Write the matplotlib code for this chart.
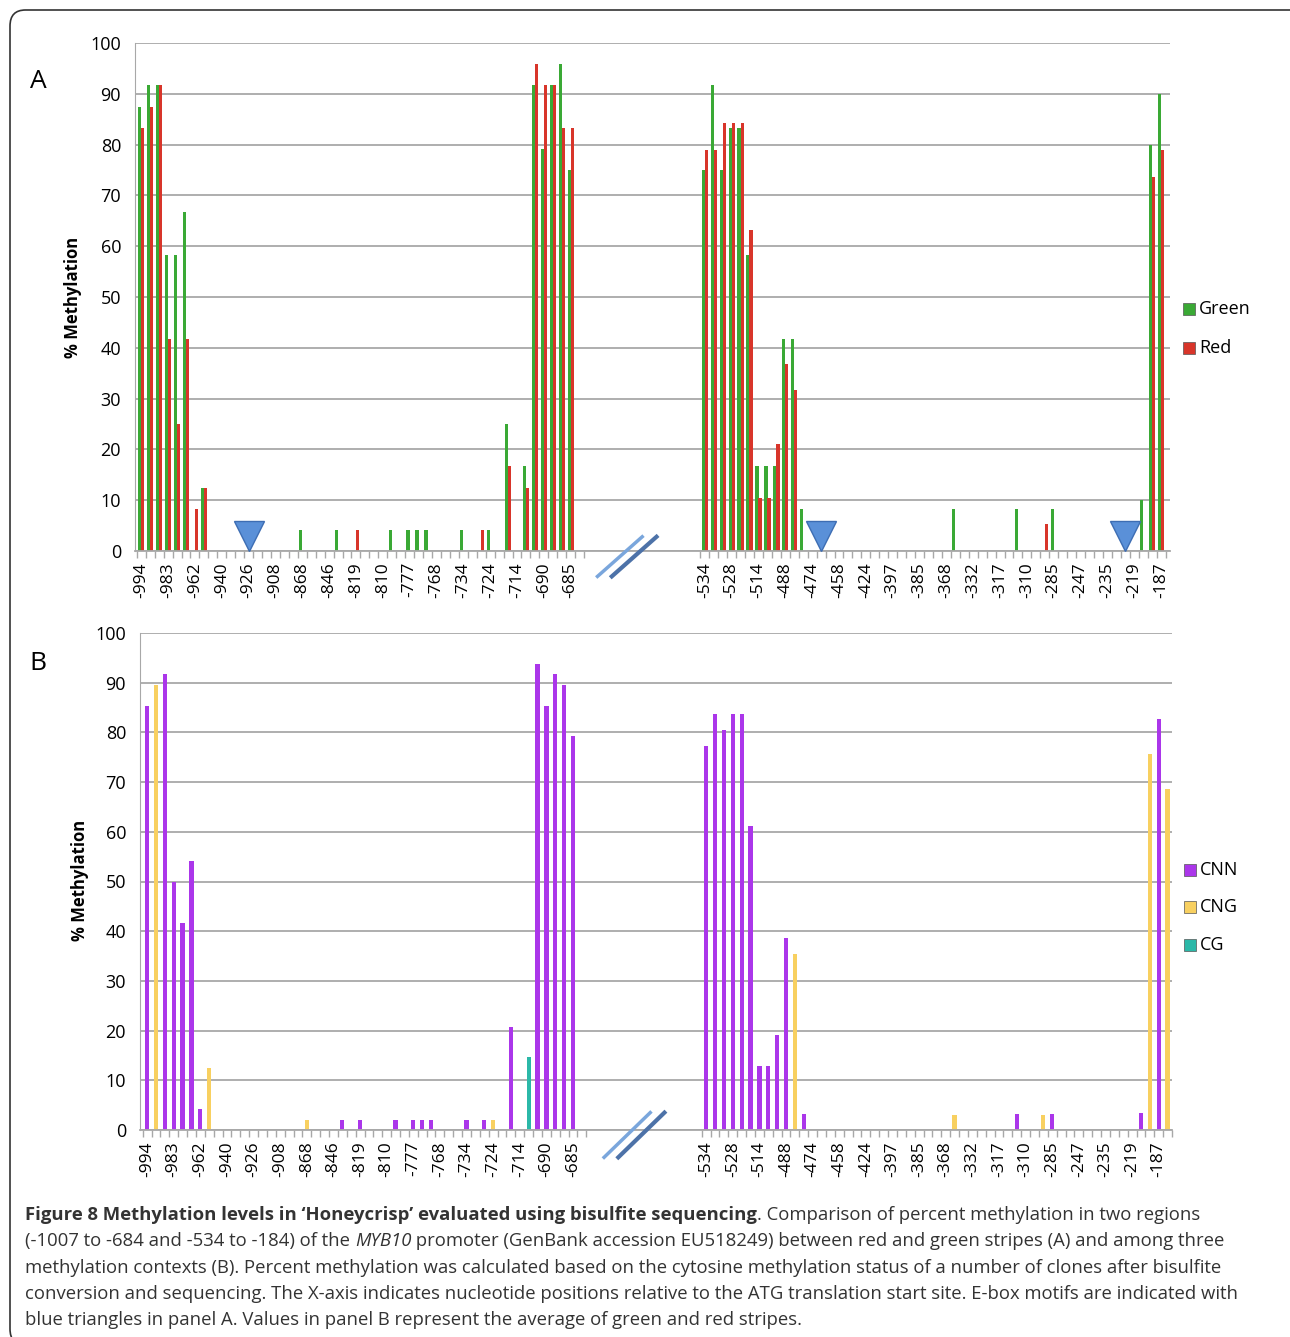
import matplotlib
matplotlib.use("Agg")
import matplotlib.pyplot as plt
from matplotlib.patches import Rectangle, FancyBboxPatch

plt.rcParams['font.family'] = ['Open Sans', 'DejaVu Sans']

# category index offset of the right-hand region (after the break)
RIGHT_OFFSET = 63

left_labels = ["-994", "-983", "-962", "-940", "-926", "-908", "-868", "-846", "-819",
               "-810", "-777", "-768", "-734", "-724", "-714", "-690", "-685"]
right_labels = ["-534", "-528", "-514", "-488", "-474", "-458", "-424", "-397", "-385",
                "-368", "-332", "-317", "-310", "-285", "-247", "-235", "-219", "-187"]

# Panel A: (category index, % methylation)
a_left_green_pos = [0, 1, 2, 3, 4, 5, 7, 18, 22, 28, 30, 31, 32, 36, 39, 41, 43, 44, 45, 46, 47, 48]
a_left_green_val = [87.5, 91.7, 91.7, 58.3, 58.3, 66.7, 12.5, 4.2, 4.2, 4.2, 4.2, 4.2, 4.2, 4.2, 4.2,
                    25.0, 16.7, 91.7, 79.2, 91.7, 95.8, 75.0]
a_left_red_pos = [0, 1, 2, 3, 4, 5, 6, 7, 24, 38, 41, 43, 44, 45, 46, 47, 48]
a_left_red_val = [83.3, 87.5, 91.7, 41.7, 25.0, 41.7, 8.3, 12.5, 4.2, 4.2, 16.7, 12.5,
                  95.8, 91.7, 91.7, 83.3, 83.3]
a_right_green_pos = [0, 1, 2, 3, 4, 5, 6, 7, 8, 9, 10, 11, 28, 35, 39, 49, 50, 51]
a_right_green_val = [75.0, 91.7, 75.0, 83.3, 83.3, 58.3, 16.7, 16.7, 16.7, 41.7, 41.7, 8.3,
                     8.3, 8.3, 8.3, 10.0, 80.0, 90.0]
a_right_red_pos = [0, 1, 2, 3, 4, 5, 6, 7, 8, 9, 10, 38, 50, 51]
a_right_red_val = [79.0, 79.0, 84.2, 84.2, 84.2, 63.2, 10.5, 10.5, 21.1, 36.8, 31.6, 5.3, 73.7, 78.9]
ebox_left = [12]
ebox_right = [13, 47]

# Panel B: (category index, % methylation, context)
b_left_pos = [0, 1, 2, 3, 4, 5, 6, 7, 18, 22, 24, 28, 30, 31, 32, 36, 38, 39, 41, 43, 44, 45, 46, 47, 48]
b_left_val = [85.4, 89.6, 91.7, 50.0, 41.7, 54.2, 4.2, 12.5, 2.1, 2.1, 2.1, 2.1, 2.1, 2.1, 2.1,
              2.1, 2.1, 2.1, 20.8, 14.6, 93.8, 85.4, 91.7, 89.6, 79.2]
b_left_ctx = ["CNN", "CNG", "CNN", "CNN", "CNN", "CNN", "CNN", "CNG", "CNG", "CNN", "CNN", "CNN",
              "CNN", "CNN", "CNN", "CNN", "CNN", "CNG", "CNN", "CG", "CNN", "CNN", "CNN", "CNN", "CNN"]
b_right_pos = [0, 1, 2, 3, 4, 5, 6, 7, 8, 9, 10, 11, 28, 35, 38, 39, 49, 50, 51, 52]
b_right_val = [77.2, 83.7, 80.4, 83.7, 83.7, 61.1, 12.8, 12.8, 19.1, 38.6, 35.5, 3.2,
               3.0, 3.2, 3.0, 3.2, 3.4, 75.6, 82.6, 68.7]
b_right_ctx = ["CNN"] * 10 + ["CNG", "CNN", "CNG", "CNN", "CNG", "CNN", "CNN", "CNG", "CNN", "CNG"]

colors = {"Green": "#3aa935", "Red": "#d8352a",
          "CNN": "#ab36ea", "CNG": "#f8d060", "CG": "#2bb8a8"}
grid_c = "#a8a8a8"

fig = plt.figure(figsize=(12.9, 13.37), dpi=100)
fig.patches.append(FancyBboxPatch((10 / 1290, 1 - 1345 / 1337), 1300 / 1290, 1335 / 1337,
                                  boxstyle="round,pad=0,rounding_size=0.012",
                                  transform=fig.transFigure, fill=False, ec="#333333", lw=1.2))


def style_axis(ax, xlim, n_right):
    ax.set_xlim(*xlim)
    ax.set_ylim(0, 100)
    ax.set_yticks(range(0, 101, 10))
    ax.yaxis.grid(True, color=grid_c, lw=1.3)
    ax.set_axisbelow(True)
    for s in ["top", "right"]:
        ax.spines[s].set_visible(False)
    ax.spines["left"].set_color(grid_c)
    ax.spines["bottom"].set_color(grid_c)
    ax.spines["bottom"].set_linewidth(1.3)
    ax.tick_params(axis="y", length=0, labelsize=13, pad=10)
    pos = [i for i in range(0, 49, 3)] + [i + RIGHT_OFFSET for i in range(0, n_right, 3)]
    ax.set_xticks(pos)
    ax.set_xticklabels(left_labels + right_labels, rotation=90, fontsize=12.5)
    ax.tick_params(axis="x", length=0, pad=8)
    minor = [i + 0.5 for i in range(-1, 50)] + [i + 0.5 + RIGHT_OFFSET for i in range(-1, n_right)]
    ax.set_xticks(minor, minor=True)
    ax.tick_params(axis="x", which="minor", length=5, color=grid_c, width=1)


def draw_break(ax, x0, y0, dx, dy):
    ax.plot([x0, x0 + dx], [y0, y0 + dy], color="#7aa6dc", lw=2.5, clip_on=False, zorder=5)
    ax.plot([x0 + 1.6, x0 + 1.6 + dx], [y0, y0 + dy], color="#4d72a8", lw=3, clip_on=False, zorder=5)


# ---- Panel A
axA = fig.add_axes([135 / 1290, 1 - 551 / 1337, 1035 / 1290, 508 / 1337])
w = 0.36
axA.bar([p - 0.17 for p in a_left_green_pos], a_left_green_val, width=w, color=colors["Green"])
axA.bar([p + 0.17 for p in a_left_red_pos], a_left_red_val, width=w, color=colors["Red"])
axA.bar([p - 0.17 + RIGHT_OFFSET for p in a_right_green_pos], a_right_green_val, width=w, color=colors["Green"])
axA.bar([p + 0.17 + RIGHT_OFFSET for p in a_right_red_pos], a_right_red_val, width=w, color=colors["Red"])
axA.plot(ebox_left + [p + RIGHT_OFFSET for p in ebox_right], [3.0] * 3, "v", ms=21,
         color="#5a90d8", mec="#3d6db3", mew=1, zorder=4)
style_axis(axA, (-0.7, 115.0), 52)
draw_break(axA, 51.0, -5.0, 5.0, 7.8)

# ---- Panel B
axB = fig.add_axes([140 / 1290, 1 - 1130 / 1337, 1032 / 1290, 497 / 1337])
axB.bar(b_left_pos, b_left_val, width=0.48, color=[colors[c] for c in b_left_ctx])
axB.bar([p + RIGHT_OFFSET for p in b_right_pos], b_right_val, width=0.48,
        color=[colors[c] for c in b_right_ctx])
style_axis(axB, (-0.8, 115.4), 53)
draw_break(axB, 51.5, -5.5, 5.2, 9.0)

# panel letters and y labels
fig.text(38 / 1290, 1 - 82 / 1337, "A", fontsize=19, ha="center", va="center")
fig.text(38 / 1290, 1 - 663 / 1337, "B", fontsize=19, ha="center", va="center")
fig.text(73 / 1290, 1 - 297 / 1337, "% Methylation", rotation=90, fontsize=12,
         fontweight="bold", ha="center", va="center")
fig.text(80 / 1290, 1 - 880 / 1337, "% Methylation", rotation=90, fontsize=12,
         fontweight="bold", ha="center", va="center")

# legends
def legend_item(x, y, name):
    fig.patches.append(Rectangle(((x - 6) / 1290, 1 - (y + 6) / 1337), 12 / 1290, 12 / 1337,
                                 transform=fig.transFigure, fc=colors[name], ec="#555555", lw=0.5))
    fig.text((x + 10) / 1290, 1 - y / 1337, name, fontsize=13, va="center")

for name, y in zip(["Green", "Red"], [309, 348]):
    legend_item(1189, y, name)
for name, y in zip(["CNN", "CNG", "CG"], [870, 907, 945]):
    legend_item(1190, y, name)

# caption with mixed styles
cap_lines = [
    [("Figure 8 Methylation levels in \u2018Honeycrisp\u2019 evaluated using bisulfite sequencing", "bold", "normal"),
     (". Comparison of percent methylation in two regions", "normal", "normal")],
    [("(-1007 to -684 and -534 to -184) of the ", "normal", "normal"), ("MYB10", "normal", "italic"),
     (" promoter (GenBank accession EU518249) between red and green stripes (A) and among three", "normal", "normal")],
    [("methylation contexts (B). Percent methylation was calculated based on the cytosine methylation status of a number of clones after bisulfite", "normal", "normal")],
    [("conversion and sequencing. The X-axis indicates nucleotide positions relative to the ATG translation start site. E-box motifs are indicated with", "normal", "normal")],
    [("blue triangles in panel A. Values in panel B represent the average of green and red stripes.", "normal", "normal")],
]
cap_y = [1215, 1241, 1268, 1294, 1320]
renderer = fig.canvas.get_renderer()
for line, y in zip(cap_lines, cap_y):
    x = 25 / 1290
    for txt, wgt, sty in line:
        t = fig.text(x, 1 - y / 1337, txt, fontsize=13.3, fontweight=wgt, fontstyle=sty,
                     va="center", ha="left", color="#333333")
        bb = t.get_window_extent(renderer=renderer)
        x = bb.x1 / fig.bbox.width

fig.savefig("out.png", dpi=100)
